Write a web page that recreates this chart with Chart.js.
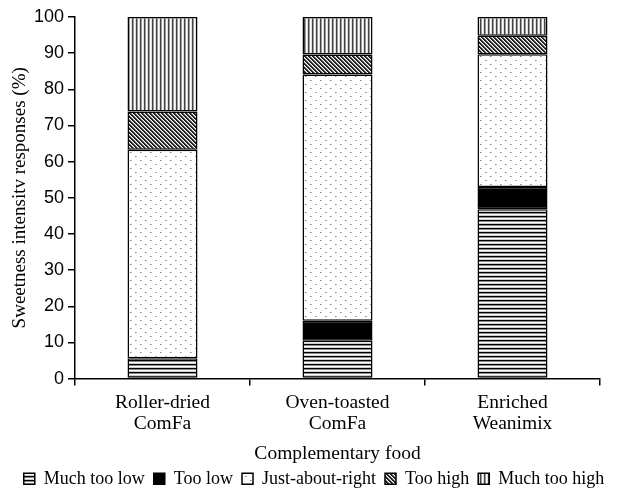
<!DOCTYPE html>
<html>
<head>
<meta charset="utf-8">
<script src="https://cdn.jsdelivr.net/npm/chart.js@4/dist/chart.umd.min.js"></script>
<style>
  html, body { margin: 0; padding: 0; background: #fff; }
  #wrap { width: 624px; height: 490px; }
</style>
</head>
<body>
<div id="wrap"><canvas id="myChart" width="624" height="490"></canvas></div>
<script>
// data
const categories = [['Roller-dried', 'ComFa'], ['Oven-toasted', 'ComFa'], ['Enriched', 'Weanimix']];
const muchTooLow = [5.6, 10.5, 46.8];
const tooLow = [0, 5.5, 6.2];
const justRight = [57.7, 68.1, 36.7];
const tooHigh = [10.6, 5.5, 5.1];
const muchTooHigh = [26.1, 10.4, 5.2];
const yTicks = [0, 10, 20, 30, 40, 50, 60, 70, 80, 90, 100];

const serif = '"Liberation Serif", "Times New Roman", serif';
const sans = '"Liberation Sans", Arial, sans-serif';

// small tiles for the fill patterns
function makePattern(w, h, draw) {
    const c = document.createElement('canvas');
    c.width = w; c.height = h;
    const g = c.getContext('2d');
    g.fillStyle = '#fff';
    g.fillRect(0, 0, w, h);
    draw(g);
    return g.createPattern(c, 'repeat');
}

const horizLines = makePattern(4, 4, g => {
    g.fillStyle = '#000'; g.fillRect(0, 0, 4, 1);
    g.fillStyle = '#888'; g.fillRect(0, 1, 4, 1);
    g.fillStyle = '#ccc'; g.fillRect(0, 3, 4, 1);
});
const vertLines = makePattern(4, 4, g => {
    g.fillStyle = '#444'; g.fillRect(0, 0, 1, 4);
    g.fillStyle = '#999'; g.fillRect(1, 0, 1, 4);
    g.fillStyle = '#ddd'; g.fillRect(3, 0, 1, 4);
});
const diagLines = makePattern(4, 4, g => {
    g.fillStyle = '#222';
    for (let i = 0; i < 4; i++) {
        g.fillRect(i, i, 1, 1);
        g.fillRect((i + 1) % 4, i, 1, 1);
    }
    g.fillStyle = '#999';
    for (let i = 0; i < 4; i++) {
        g.fillRect((i + 2) % 4, i, 1, 1);
    }
});
const dots = makePattern(10, 8, g => {
    g.fillStyle = '#888';
    g.fillRect(0, 0, 1, 1);
    g.fillRect(5, 4, 1, 1);
    g.fillStyle = '#bbb';
    g.fillRect(1, 0, 1, 1);
    g.fillRect(6, 4, 1, 1);
});

function ds(label, data, fill) {
    return {
        label: label,
        data: data,
        backgroundColor: fill,
        borderColor: '#000',
        borderWidth: 1.5,
        borderSkipped: false,
        categoryPercentage: 0.8,
        barPercentage: 0.5
    };
}

// the legend in the picture sits a bit right of the plot centre
const legendShift = {
    id: 'legendShift',
    beforeDraw(chart) {
        const lg = chart.legend;
        if (lg && !lg._shifted) {
            lg.left += 14;
            lg.right += 14;
            lg._shifted = true;
        }
    }
};

const ctx = document.getElementById('myChart');
const myChart = new Chart(ctx, {
    type: 'bar',
    data: {
        labels: categories,
        datasets: [
            ds('Much too low', muchTooLow, horizLines),
            ds('Too low', tooLow, '#000'),
            ds('Just-about-right', justRight, dots),
            ds('Too high', tooHigh, diagLines),
            ds('Much too high', muchTooHigh, vertLines)
        ]
    },
    plugins: [legendShift],
    options: {
        responsive: false,
        animation: false,
        devicePixelRatio: 1,
        layout: { padding: { left: 0, right: 24, top: 17, bottom: -7.8 } },
        plugins: {
            tooltip: { enabled: false },
            legend: {
                position: 'bottom',
                labels: {
                    color: '#000',
                    font: { family: serif, size: 18 },
                    boxWidth: 11,
                    boxHeight: 11,
                    padding: 9
                }
            }
        },
        scales: {
            x: {
                stacked: true,
                afterFit: scale => { scale.height = 82.2; },
                grid: { display: true, drawOnChartArea: false, tickLength: 7, color: '#000', lineWidth: 1.5, offset: true },
                border: { color: '#000', width: 1.5 },
                ticks: { color: '#000', font: { family: serif, size: 19.5, lineHeight: 1.08 }, maxRotation: 0, padding: 7 },
                title: { display: true, text: 'Complementary food', color: '#000', font: { family: serif, size: 19.5, lineHeight: 1 }, padding: { top: 0, bottom: -2.5 } }
            },
            y: {
                stacked: true,
                min: 0,
                max: 100,
                afterBuildTicks: scale => { scale.ticks = yTicks.map(v => ({ value: v })); },
                afterFit: scale => { scale.width = 75; },
                grid: { display: true, drawOnChartArea: false, tickLength: 7, color: '#000', lineWidth: 1.5 },
                border: { color: '#000', width: 1.5 },
                ticks: { color: '#000', font: { family: sans, size: 18 }, padding: 4 },
                title: { display: true, text: 'Sweetness intensitv responses (%)', color: '#000', font: { family: serif, size: 19 }, padding: { top: 9, bottom: 0 } }
            }
        }
    }
});
</script>
</body>
</html>
